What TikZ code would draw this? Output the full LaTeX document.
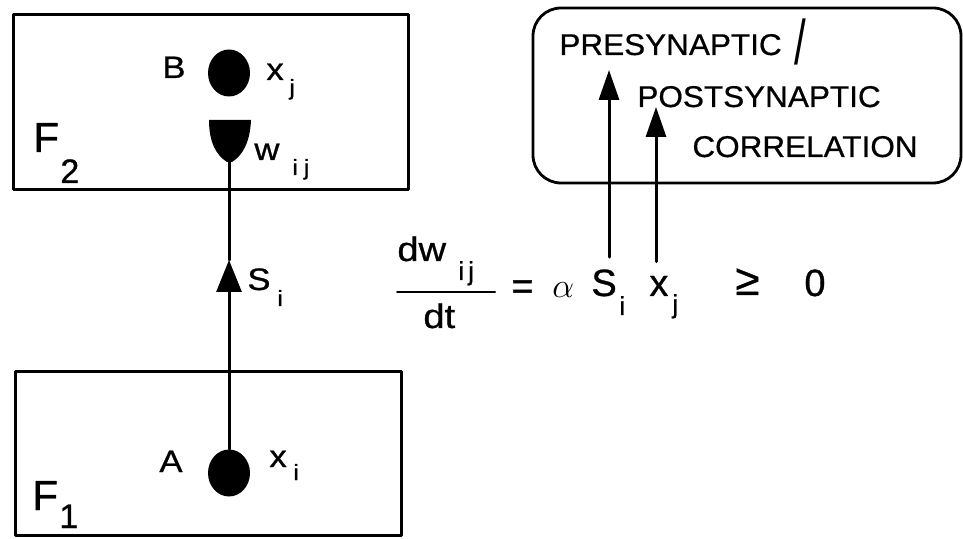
\documentclass[tikz,border=0pt]{standalone}
\usepackage{fontspec}
\setmainfont{Liberation Sans}[FakeBold=0.8]
\newfontfamily\widesans{Liberation Sans}[FakeStretch=1.12,FakeBold=0.8]
\newfontfamily\notesans{Liberation Sans}[FakeStretch=1.05,FakeBold=0.6]
\newfontfamily\thinsans{Liberation Sans}
\usepackage{tikz}
\usetikzlibrary{arrows.meta,positioning,shapes.geometric}
\definecolor{ink}{HTML}{000000}
\tikzset{
    every picture/.style={line cap=round,line join=round},
    layerbox/.style={draw=ink,line width=1.5pt},
    notebox/.style={draw=ink,line width=1.4pt,rounded corners=14pt},
    cellbody/.style={ellipse,fill=ink,inner sep=0pt,
      minimum width=21pt,minimum height=23.5pt},
    celltext/.style={font=\widesans\fontsize{15.5}{18}\selectfont,
      anchor=base west,inner sep=0pt},
    subtext/.style={font=\widesans\fontsize{11}{13}\selectfont,
      anchor=base west,inner sep=0pt},
    layertext/.style={font=\fontsize{21}{25}\selectfont,anchor=base west,inner sep=0pt},
    layersub/.style={font=\fontsize{17}{20}\selectfont,anchor=base west,inner sep=0pt},
    notetext/.style={font=\notesans\fontsize{15}{18}\selectfont,
      anchor=base west,inner sep=0pt},
    eqtext/.style={font=\fontsize{19}{23}\selectfont,anchor=base west,inner sep=0pt},
    fractext/.style={font=\widesans\fontsize{17}{20}\selectfont,anchor=base west,inner sep=0pt},
    eqsub/.style={font=\fontsize{13}{15}\selectfont,anchor=base west,inner sep=0pt},
    signal/.style={-{Triangle[length=16pt,width=12.5pt]},draw=ink,line width=1.5pt},
    pointer/.style={-{Triangle[length=15pt,width=10pt]},draw=ink,line width=1.5pt}
}

\begin{document}
\begin{tikzpicture}[x=0.5pt,y=-0.5pt]
  \useasboundingbox (0,0) rectangle (963,539);
  % the two fields
  \draw[layerbox] (13,15) rectangle (408,190);
  \draw[layerbox] (15,372) rectangle (401,535);
  \node[layertext] (ftop) at (33,152) {F};
  \node[layersub] (ftopn) at (60,183) {2};
  \node[layertext] (fbot) at (32,510) {F};
  \node[layersub] (fbotn) at (59,528) {1};
  % cells and their activities
  \node[cellbody] (B) at (229,73) {};
  \node[cellbody] (A) at (229,473) {};
  \node[celltext] (Bname) at (162,78) {B};
  \node[celltext] (xB) at (266,80) {x};
  \node[subtext] (xBsub) at (289,95) {j};
  \node[celltext] (Aname) at (159,472) {A};
  \node[celltext] (xA) at (269,467) {x};
  \node[subtext] (xAsub) at (293,480) {i};
  % synaptic knob and weight
  \fill[ink] (209,120) -- (251,120) .. controls (250,142) and (243,155) .. (232,162)
    -- (227,162) .. controls (216,155) and (209,142) .. (209,120) -- cycle;
  \coordinate (syn) at (229,162);
  \node[celltext] (wname) at (254,160) {w};
  \node[subtext] (wsub) at (292,175) {i\hspace{3pt}j};
  % signal from A up to the synapse
  \coordinate (sarrow) at (229,260);
  \draw[signal] (A.north) -- (sarrow);
  \draw[ink,line width=1.5pt] (sarrow) -- (syn);
  \node[celltext] (sname) at (247,290) {S};
  \node[subtext] (ssub) at (277,306) {i};
  % learning law
  \node[fractext] (dw) at (397,261) {dw};
  \node[eqsub] (dwsub) at (458,280) {i\hspace{2pt}j};
  \draw[ink,line width=1pt] (397,292) -- (495,292);
  \node[fractext] (dt) at (423,328) {dt};
  \node[eqtext] (eq) at (511,299) {=};
  \node[eqtext] (rate) at (552,298) {$\alpha$};
  \node[eqtext,inner ysep=6pt] (Sterm) at (591,296) {S};
  \node[eqsub] (Stermsub) at (619,315) {i};
  \node[eqtext,inner ysep=7pt] (xterm) at (649,296) {x};
  \node[eqsub] (xtermsub) at (672,313) {j};
  \node[eqtext,font=\fontsize{22}{26}\selectfont] (geq) at (735,295) {≥};
  \node[eqtext] (zero) at (804,296) {0};
  % correlation note
  \draw[notebox] (533,8) rectangle (961,183);
  \node[notetext] (pre) at (559,55) {PRESYNAPTIC};
  \node[font=\thinsans\fontsize{21}{25}\selectfont,anchor=base west,inner sep=0pt] (slash)
    at (794,65) {\scalebox{1}[1.5]{/}};
  \node[notetext] (post) at (637,107) {POSTSYNAPTIC};
  \node[notetext] (corr) at (692,157) {CORRELATION};
  \coordinate (pretip) at (609,70);
  \coordinate (posttip) at (656,107);
  \draw[pointer] (Sterm.north -| pretip) -- (pretip);
  \draw[pointer] (xterm.north -| posttip) -- (posttip);
\end{tikzpicture}
\end{document}
